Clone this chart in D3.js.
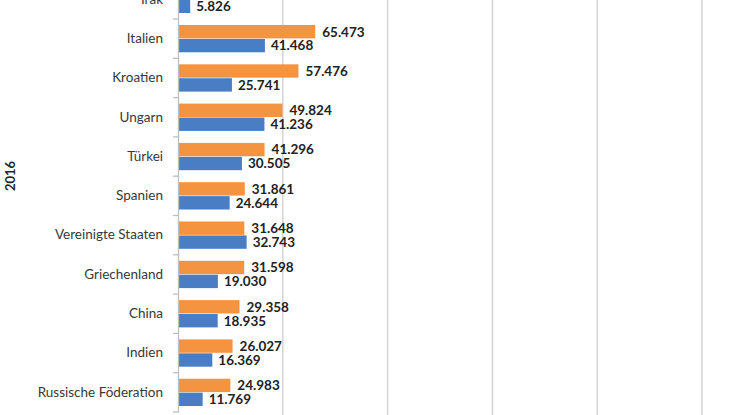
<!DOCTYPE html>
<html><head><meta charset="utf-8">
<script src="https://cdn.jsdelivr.net/npm/d3@7"></script>
<style>body{margin:0;background:#fff}svg{display:block}</style>
</head><body>
<svg id="c" width="738" height="415"></svg>
<script>
const categories = ["Irak","Italien","Kroatien","Ungarn","Türkei","Spanien","Vereinigte Staaten","Griechenland","China","Indien","Russische Föderation"];
const seriesOrange = [66.2,65.473,57.476,49.824,41.296,31.861,31.648,31.598,29.358,26.027,24.983];
const seriesBlue = [5.826,41.468,25.741,41.236,30.505,24.644,32.743,19.030,18.935,16.369,11.769];
const orangeLabels = [null,"65.473","57.476","49.824","41.296","31.861","31.648","31.598","29.358","26.027","24.983"];
const blueLabels = ["5.826","41.468","25.741","41.236","30.505","24.644","32.743","19.030","18.935","16.369","11.769"];
const gridTicks = [0,50,100,150,200,250];
const groupLabel = "2016";

const svg = d3.select("#c");
const x = d3.scaleLinear().domain([0,250]).range([178,702]);
const y = d3.scaleBand().domain(categories).range([-20.3,412]).padding(0);
const inner = d3.scaleBand().domain(["o","b"]).range([6, y.bandwidth()-6]).paddingInner(0.04);

// gridlines
svg.append("g").selectAll("line").data(gridTicks.slice(1)).join("line")
  .attr("x1",d=>x(d)).attr("x2",d=>x(d)).attr("y1",0).attr("y2",415)
  .attr("stroke","#d6d6d6").attr("stroke-width",1.6);

const rows = categories.map((c,i)=>({c,o:seriesOrange[i],b:seriesBlue[i],ol:orangeLabels[i],bl:blueLabels[i]}));

const g = svg.append("g");
g.selectAll("rect.o").data(rows).join("rect").attr("class","o")
  .attr("x",x(0)).attr("y",d=>y(d.c)+inner("o")).attr("width",d=>x(d.o)-x(0)).attr("height",inner.bandwidth())
  .attr("fill","#F59440");
g.selectAll("rect.b").data(rows).join("rect").attr("class","b")
  .attr("x",x(0)).attr("y",d=>y(d.c)+inner("b")).attr("width",d=>x(d.b)-x(0)).attr("height",inner.bandwidth())
  .attr("fill","#4A7EC4");

const lf = "Lato, 'Open Sans', sans-serif";
g.selectAll("text.ol").data(rows.filter(d=>d.ol)).join("text").attr("class","ol")
  .attr("x",d=>x(d.o)+7).attr("y",d=>y(d.c)+inner("o")+inner.bandwidth()/2).attr("dy","0.36em")
  .attr("font-family",lf).attr("font-weight","bold").attr("font-size",13.5).attr("fill","#222").text(d=>d.ol);
g.selectAll("text.bl").data(rows).join("text").attr("class","bl")
  .attr("x",d=>x(d.b)+6).attr("y",d=>y(d.c)+inner("b")+inner.bandwidth()/2).attr("dy","0.36em")
  .attr("font-family",lf).attr("font-weight","bold").attr("font-size",13.5).attr("fill","#222").text(d=>d.bl);

// category axis
const ax = svg.append("g").attr("transform",`translate(${x(0)},0)`)
  .call(d3.axisLeft(y).tickSize(0).tickPadding(15));
ax.select(".domain").attr("stroke","#bfbfbf").attr("stroke-width",1.3);
ax.selectAll(".tick text").attr("font-family",lf).attr("font-size",13.5).attr("fill","#383838");
// tick marks at band boundaries
const bounds = categories.map(c=>y(c)+y.bandwidth());
ax.selectAll("line.bt").data(bounds).join("line").attr("class","bt")
  .attr("x1",-5).attr("x2",0).attr("y1",d=>d).attr("y2",d=>d).attr("stroke","#bfbfbf").attr("stroke-width",1.3);

svg.append("text").attr("transform","translate(14.5,176) rotate(-90)").attr("text-anchor","middle")
  .attr("font-family",lf).attr("font-weight","bold").attr("font-size",13).attr("fill","#262626").text(groupLabel);
</script>
</body></html>
